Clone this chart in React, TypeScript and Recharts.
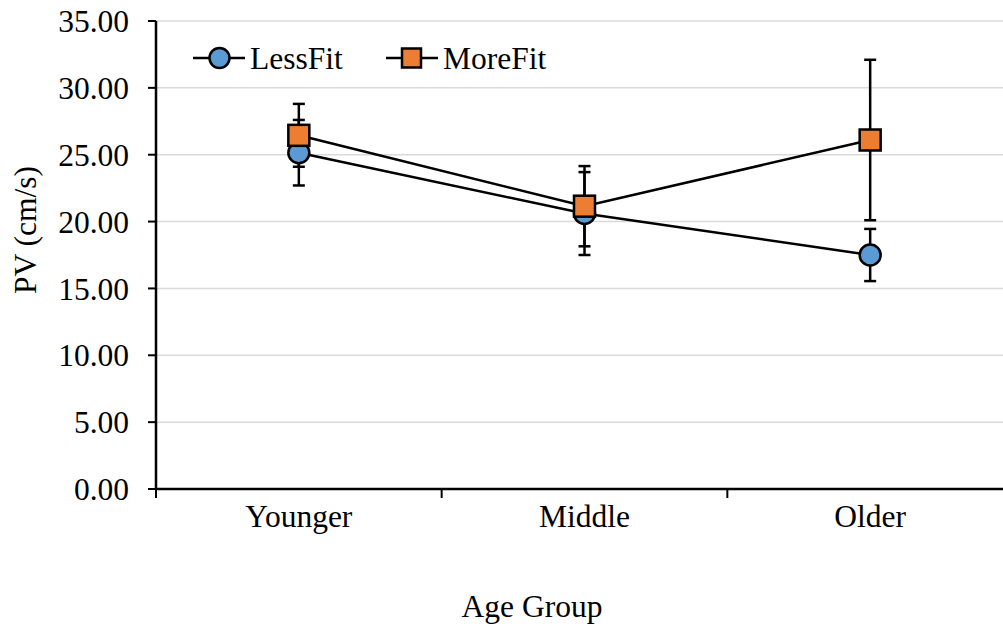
import React from 'react';
import { LineChart, Line, XAxis, YAxis, CartesianGrid, ErrorBar } from 'recharts';

const categories = ['Younger', 'Middle', 'Older'];
const lessFit = [25.15, 20.6, 17.5];
const lessFitErr = [2.45, 3.1, 1.95];
const moreFit = [26.45, 21.15, 26.1];
const moreFitErr = [2.35, 3.0, 6.0];
const yTicks = [0, 5, 10, 15, 20, 25, 30, 35];

const BLUE = '#5B9BD5';
const ORANGE = '#ED7D31';
const FONT = '"Liberation Serif", "Times New Roman", serif';
const FS = 31.5;
const SW = 2.5;

const data = categories.map((c, i) => ({
    x: i + 0.5,
    name: c,
    less: lessFit[i],
    lessErr: lessFitErr[i],
    more: moreFit[i],
    moreErr: moreFitErr[i],
}));

// ticks on category boundaries (lines) and at centres (labels)
const xTicks = Array.from({ length: categories.length * 2 + 1 }, (_, i) => i / 2);

const AgeTick = (props: any) => {
    const { x, y, payload } = props;
    const v = payload.value;
    if (Number.isInteger(v)) {
        return <line x1={x} y1={y} x2={x} y2={y + 9} stroke="#000" strokeWidth={2} />;
    }
    return (
        <text x={x} y={y + 38} textAnchor="middle" fontSize={FS} fontFamily={FONT} fill="#000">
            {categories[Math.floor(v)]}
        </text>
    );
};

const SquareDot = (props: any) => {
    const { cx, cy } = props;
    if (cx == null || cy == null) return null;
    return <rect x={cx - 10.5} y={cy - 10.5} width={21} height={21} fill={ORANGE} stroke="#000" strokeWidth={SW} />;
};

function LegendBox() {
    return (
        <svg width={400} height={40} style={{ position: 'absolute', left: 190, top: 38 }}>
            <line x1={3} y1={20} x2={55} y2={20} stroke="#000" strokeWidth={SW} />
            <circle cx={29.5} cy={20} r={10} fill={BLUE} stroke="#000" strokeWidth={SW} />
            <text x={60} y={31} fontSize={FS} fontFamily={FONT} fill="#000">LessFit</text>
            <line x1={196} y1={20} x2={248} y2={20} stroke="#000" strokeWidth={SW} />
            <rect x={212} y={10.5} width={19} height={19} fill={ORANGE} stroke="#000" strokeWidth={SW} />
            <text x={253} y={31} fontSize={FS} fontFamily={FONT} fill="#000">MoreFit</text>
        </svg>
    );
}

export default function App() {
    return (
        <div style={{ position: 'absolute', left: 0, top: 0, width: 1003, height: 629, overflow: 'hidden', background: '#fff' }}>
            <LineChart
                width={1020}
                height={629}
                data={data}
                margin={{ top: 21, right: 7, left: 0, bottom: 0 }}
                style={{ fontFamily: FONT }}
            >
                <CartesianGrid horizontal vertical={false} stroke="#D9D9D9" strokeWidth={1.5} />
                <XAxis
                    dataKey="x"
                    type="number"
                    domain={[0, categories.length]}
                    ticks={xTicks}
                    interval={0}
                    tick={<AgeTick />}
                    tickLine={false}
                    tickSize={0}
                    tickMargin={0}
                    height={140}
                    axisLine={{ stroke: '#000', strokeWidth: SW }}
                    label={{
                        content: () => (
                            <text x={532} y={617} textAnchor="middle" fontSize={FS} fontFamily={FONT} fill="#000">
                                Age Group
                            </text>
                        ),
                    }}
                />
                <YAxis
                    type="number"
                    domain={[0, 35]}
                    ticks={yTicks}
                    interval={0}
                    width={156}
                    tickFormatter={(v: number) => v.toFixed(2)}
                    tick={{ fontSize: FS, fontFamily: FONT, fill: '#000' }}
                    tickSize={8}
                    tickMargin={19}
                    tickLine={{ stroke: '#000', strokeWidth: 2 }}
                    axisLine={{ stroke: '#000', strokeWidth: SW }}
                    label={{
                        content: () => (
                            <text
                                x={25}
                                y={230}
                                transform="rotate(-90 25 230)"
                                textAnchor="middle"
                                dominantBaseline="central"
                                fontSize={FS}
                                fontFamily={FONT}
                                fill="#000"
                            >
                                PV (cm/s)
                            </text>
                        ),
                    }}
                />
                <Line
                    dataKey="less"
                    stroke="#000"
                    strokeWidth={SW}
                    dot={{ r: 10.5, fill: BLUE, stroke: '#000', strokeWidth: SW }}
                    activeDot={false}
                    isAnimationActive={false}
                >
                    <ErrorBar dataKey="lessErr" width={6} stroke="#000" strokeWidth={SW} isAnimationActive={false} />
                </Line>
                <Line
                    dataKey="more"
                    stroke="#000"
                    strokeWidth={SW}
                    dot={<SquareDot />}
                    activeDot={false}
                    isAnimationActive={false}
                >
                    <ErrorBar dataKey="moreErr" width={6} stroke="#000" strokeWidth={SW} isAnimationActive={false} />
                </Line>
            </LineChart>
            <LegendBox />
        </div>
    );
}
